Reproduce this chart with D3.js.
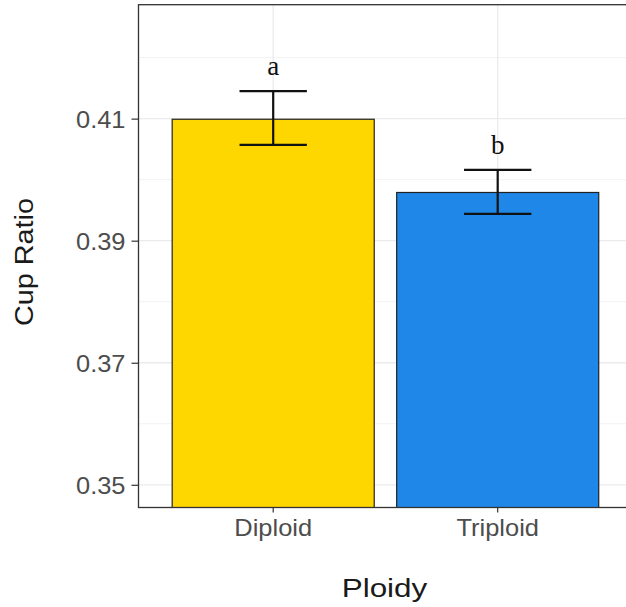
<!DOCTYPE html>
<html>
<head>
<meta charset="utf-8">
<script src="https://cdn.jsdelivr.net/npm/d3@7"></script>
<style>
  html, body { margin: 0; padding: 0; background: #fff; }
  svg { display: block; }
</style>
</head>
<body>
<svg id="chart" width="626" height="607"></svg>
<script>
// ---- data ----
const categories = ["Diploid", "Triploid"];
const means = [0.4099, 0.3979];
const errLow = [0.4057, 0.3944];
const errHigh = [0.4145, 0.4016];
const letters = ["a", "b"];
const colors = ["#FFD700", "#1F87E8"];
const majorTicks = [0.35, 0.37, 0.39, 0.41];
const minorTicks = [0.36, 0.38, 0.40, 0.42];
const yDomain = [0.34628, 0.42867];
const xTitle = "Ploidy";
const yTitle = "Cup Ratio";

// ---- layout ----
const panel = { left: 138.5, right: 632.4, top: 4.7, bottom: 507.5 };
const svg = d3.select("#chart");

const x = d3.scaleBand()
  .domain(categories)
  .range([panel.left, panel.right])
  .paddingInner(0.1)
  .paddingOuter(0.15);

const y = d3.scaleLinear()
  .domain(yDomain)
  .range([panel.bottom, panel.top]);

svg.append("defs").append("clipPath").attr("id", "clip")
  .append("rect")
  .attr("x", panel.left).attr("y", panel.top)
  .attr("width", panel.right - panel.left)
  .attr("height", panel.bottom - panel.top);

const g = svg.append("g").attr("clip-path", "url(#clip)");

// grid
g.selectAll(".minor").data(minorTicks).join("line")
  .attr("x1", panel.left).attr("x2", panel.right)
  .attr("y1", d => y(d)).attr("y2", d => y(d))
  .attr("stroke", "#f2f2f2").attr("stroke-width", 1);
g.selectAll(".major").data(majorTicks).join("line")
  .attr("x1", panel.left).attr("x2", panel.right)
  .attr("y1", d => y(d)).attr("y2", d => y(d))
  .attr("stroke", "#ebebeb").attr("stroke-width", 1.3);
g.selectAll(".vgrid").data(categories).join("line")
  .attr("x1", d => x(d) + x.bandwidth() / 2).attr("x2", d => x(d) + x.bandwidth() / 2)
  .attr("y1", panel.top).attr("y2", panel.bottom)
  .attr("stroke", "#ebebeb").attr("stroke-width", 1.3);

// bars
g.selectAll(".bar").data(categories).join("rect")
  .attr("x", d => x(d))
  .attr("width", x.bandwidth())
  .attr("y", (d, i) => y(means[i]))
  .attr("height", (d, i) => y(0) - y(means[i]))
  .attr("fill", (d, i) => colors[i])
  .attr("stroke", "#222").attr("stroke-width", 1.2);

// error bars
const step = x.step();
const ew = step * 0.3;
const eg = g.selectAll(".err").data(categories).join("g");
eg.append("line")
  .attr("x1", d => x(d) + x.bandwidth() / 2).attr("x2", d => x(d) + x.bandwidth() / 2)
  .attr("y1", (d, i) => y(errLow[i])).attr("y2", (d, i) => y(errHigh[i]))
  .attr("stroke", "#111").attr("stroke-width", 2.2);
eg.append("line")
  .attr("x1", d => x(d) + x.bandwidth() / 2 - ew / 2).attr("x2", d => x(d) + x.bandwidth() / 2 + ew / 2)
  .attr("y1", (d, i) => y(errLow[i])).attr("y2", (d, i) => y(errLow[i]))
  .attr("stroke", "#111").attr("stroke-width", 2.2);
eg.append("line")
  .attr("x1", d => x(d) + x.bandwidth() / 2 - ew / 2).attr("x2", d => x(d) + x.bandwidth() / 2 + ew / 2)
  .attr("y1", (d, i) => y(errHigh[i])).attr("y2", (d, i) => y(errHigh[i]))
  .attr("stroke", "#111").attr("stroke-width", 2.2);

// significance letters
g.selectAll(".letter").data(categories).join("text")
  .attr("x", d => x(d) + x.bandwidth() / 2)
  .attr("y", (d, i) => y(errHigh[i]) - 16)
  .attr("text-anchor", "middle")
  .attr("font-family", "'Liberation Serif', 'Times New Roman', serif")
  .attr("font-size", 27)
  .attr("fill", "#111")
  .text((d, i) => letters[i]);

// panel border
svg.append("rect")
  .attr("x", panel.left).attr("y", panel.top)
  .attr("width", panel.right - panel.left)
  .attr("height", panel.bottom - panel.top)
  .attr("fill", "none").attr("stroke", "#333").attr("stroke-width", 1.3);

// y axis
const yAxis = svg.append("g")
  .attr("transform", `translate(${panel.left},0)`)
  .call(d3.axisLeft(y).tickValues(majorTicks).tickSize(7).tickPadding(6).tickFormat(d3.format(".2f")));
yAxis.select(".domain").remove();
yAxis.selectAll(".tick line").attr("stroke", "#333").attr("stroke-width", 1.2);
yAxis.selectAll(".tick text")
  .attr("font-family", "'Liberation Sans', Arial, sans-serif")
  .attr("font-size", 24)
  .attr("fill", "#4d4d4d")
  .attr("dy", "0.36em");

// x axis
const xAxis = svg.append("g")
  .attr("transform", `translate(0,${panel.bottom})`)
  .call(d3.axisBottom(x).tickSize(5).tickPadding(6));
xAxis.select(".domain").remove();
xAxis.selectAll(".tick line").attr("stroke", "#333").attr("stroke-width", 1.2);
xAxis.selectAll(".tick text")
  .attr("font-family", "'Liberation Sans', Arial, sans-serif")
  .attr("font-size", 24)
  .attr("fill", "#4d4d4d")
  .attr("dy", "0.71em");

// stretch tick labels slightly to match reference widths
svg.selectAll(".tick text").each(function () {
  const w = this.getComputedTextLength();
  d3.select(this).attr("textLength", w * 1.06).attr("lengthAdjust", "spacingAndGlyphs");
});

// axis titles
svg.append("text")
  .attr("x", 384.5).attr("y", 597.3)
  .attr("text-anchor", "middle")
  .attr("font-family", "'Liberation Sans', Arial, sans-serif")
  .attr("font-size", 26.5)
  .attr("fill", "#1a1a1a")
  .attr("textLength", 85.6).attr("lengthAdjust", "spacingAndGlyphs")
  .text(xTitle);

svg.append("text")
  .attr("transform", "translate(33.3,262) rotate(-90)")
  .attr("text-anchor", "middle")
  .attr("font-family", "'Liberation Sans', Arial, sans-serif")
  .attr("font-size", 26)
  .attr("fill", "#1a1a1a")
  .attr("textLength", 128).attr("lengthAdjust", "spacingAndGlyphs")
  .text(yTitle);
</script>
</body>
</html>
